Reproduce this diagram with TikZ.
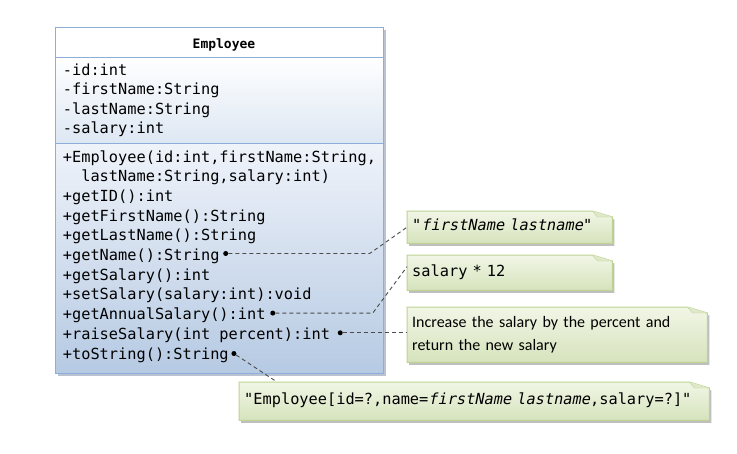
\documentclass[tikz,border=0pt]{standalone}
\usepackage{fontspec}
\setmainfont{Carlito}
\setmonofont{DejaVu Sans Mono}[ItalicFont={DejaVu Sans Mono},ItalicFeatures={FakeSlant=0.2},BoldFont={DejaVu Sans Mono Bold}]
\usetikzlibrary{backgrounds}

\definecolor{classline}{HTML}{8EAEDA}
\definecolor{attrbot}{HTML}{DDE7F3}
\definecolor{classtop}{HTML}{EFF3FA}
\definecolor{classbot}{HTML}{B6CAE3}
\definecolor{noteline}{HTML}{BFD394}
\definecolor{notetop}{HTML}{F1F6E6}
\definecolor{notebot}{HTML}{D6E3BC}

\tikzset{
  member/.style={anchor=base west, inner sep=0pt, font=\fontsize{15.3}{19}\ttfamily},
  dot/.style={circle, fill=black, inner sep=0pt, minimum size=5pt},
  link/.style={dash pattern=on 4pt off 3pt, line width=0.9pt, black!70},
  notebox/.style={anchor=north west, inner xsep=5pt, inner ysep=0pt, align=left,
    text height=10pt, text depth=3pt, font=\fontsize{15.3}{19}\ttfamily},
}

\begin{document}
\begin{tikzpicture}[x=1pt, y=-1pt]
  \useasboundingbox (0,0) rectangle (737,453);

  % class box
  \fill[classline!70!black, opacity=.45] (58,29.5) rectangle (385.5,375.5);
  \draw[classline, line width=1pt, fill=white] (55.5,27) rectangle (383,57);
  \draw[classline, line width=1pt, top color=white, bottom color=attrbot] (55.5,57) rectangle (383,143);
  \draw[classline, line width=1pt, top color=classtop, bottom color=classbot] (55.5,143) rectangle (383,373);

  \node[anchor=base, inner sep=0pt, font=\fontsize{13}{13}\ttfamily\bfseries] (title) at (224,48) {Employee};

  \node[member] (id) at (62.7,75) {-id:int};
  \node[member] (fname) at (62.7,94.5) {-firstName:String};
  \node[member] (lname) at (62.7,114) {-lastName:String};
  \node[member] (sal) at (62.7,133.5) {-salary:int};

  \node[member] (ctor) at (62.7,162) {+Employee(id:int,firstName:String,};
  \node[member] (ctorb) at (62.7,181.7) {\hphantom{++}lastName:String,salary:int)};
  \node[member] (getid) at (62.7,201.4) {+getID():int};
  \node[member] (getfirst) at (62.7,221.1) {+getFirstName():String};
  \node[member] (getlast) at (62.7,240.8) {+getLastName():String};
  \node[member] (getname) at (62.7,260.5) {+getName():String};
  \node[member] (getsal) at (62.7,280.2) {+getSalary():int};
  \node[member] (setsal) at (62.7,299.9) {+setSalary(salary:int):void};
  \node[member] (getannual) at (62.7,319.6) {+getAnnualSalary():int};
  \node[member] (raise) at (62.7,339.3) {+raiseSalary(int percent):int};
  \node[member] (tostr) at (62.7,359) {+toString():String};

  % dots at the end of the methods
  \node[dot] (dname) at ([xshift=6pt,yshift=7pt]getname.base east) {};
  \node[dot] (dannual) at ([xshift=7pt,yshift=6.5pt]getannual.base east) {};
  \node[dot] (draise) at ([xshift=10pt,yshift=6.5pt]raise.base east) {};
  \node[dot] (dtostr) at ([xshift=5pt,yshift=5.5pt]tostr.base east) {};

  % notes
  \node[notebox, text width=195pt, minimum height=32pt] (n1) at (407,211) {"\textit{firstName lastname}"};
  \node[notebox, text width=195pt, minimum height=35pt] (n2) at (407,255) {salary * 12};
  \node[notebox, text width=290pt, minimum height=55pt, text height=, text depth=,
    font=\fontsize{16}{23}\selectfont] (n3) at (407,307) {Increase the salary by the percent and\\return the new salary};
  \node[notebox, text width=460pt, minimum height=38pt] (n4) at (239,382) {"Employee[id=?,name=\textit{firstName lastname},salary=?]"};

  \begin{scope}[on background layer]
    \foreach \n in {n1,n2,n3,n4}{
      \fill[black!25, transform canvas={shift={(2pt,-2.5pt)}}] (\n.south west) -- (\n.north west) -- ([xshift=-20pt]\n.north east) -- ([yshift=-6pt]\n.north east) -- (\n.south east) -- cycle;
      \draw[noteline, line width=1pt, top color=notetop, bottom color=notebot] (\n.south west) -- (\n.north west) -- ([xshift=-20pt]\n.north east) -- ([yshift=-6pt]\n.north east) -- (\n.south east) -- cycle;
      \draw[noteline, fill=notebot!80!white] ([xshift=-20pt]\n.north east) -- ([xshift=-15pt,yshift=-6pt]\n.north east) -- ([yshift=-6pt]\n.north east);
    }
  \end{scope}

  % connectors
  \draw[link] (dname) -- ++(144,0) -- (n1.west);
  \draw[link] (dannual) -- ++(100,0) -- ([yshift=6pt]n2.west);
  \draw[link] (draise) -- (draise -| n3.west);
  \draw[link] (dtostr) -- ([xshift=38pt]n4.north west);
\end{tikzpicture}
\end{document}
